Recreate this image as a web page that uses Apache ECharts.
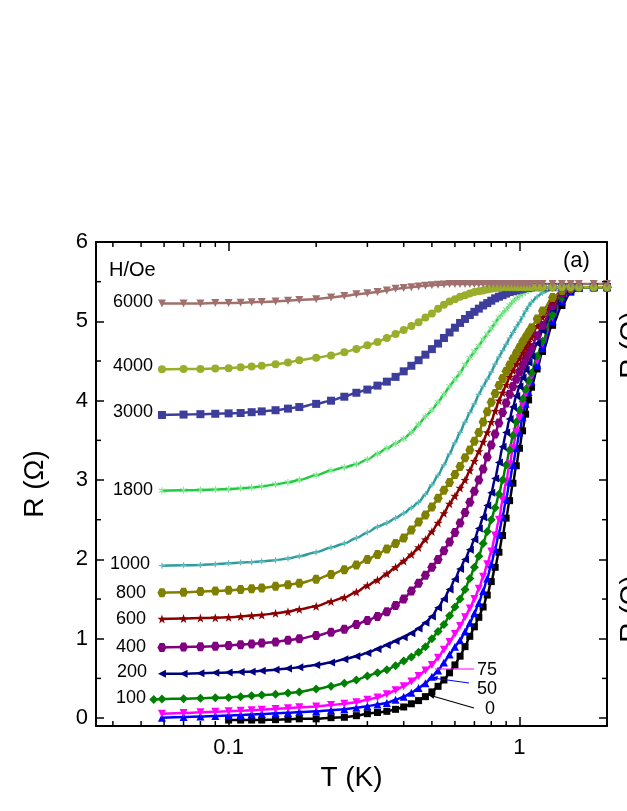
<!DOCTYPE html>
<html><head><meta charset="utf-8">
<script src="https://cdn.jsdelivr.net/npm/echarts@6/dist/echarts.min.js"></script>
<style>html,body{margin:0;padding:0;background:#fff;}#c{width:627px;height:811px;}</style>
</head><body><div id="c"></div>
<script>
// Temperatures (K)
const T = [0.0553,0.059,0.07,0.08,0.09,0.1,0.11,0.12,0.13,0.145,0.16,0.175,0.2,0.225,0.25,0.275,0.3,0.325,0.35,0.375,0.4,0.425,0.45,0.475,0.5,0.525,0.55,0.575,0.6,0.625,0.65,0.675,0.7,0.725,0.75,0.775,0.8,0.825,0.85,0.875,0.9,0.925,0.95,0.975,1.0,1.025,1.05,1.075,1.1,1.15,1.2,1.3,1.4,1.5,1.6,1.8,2.0];

// Resistance (Ohm) per field H/Oe
const R6000 = [null,5.225,5.225,5.225,5.23,5.23,5.235,5.24,5.245,5.25,5.26,5.27,5.28,5.3,5.32,5.34,5.355,5.37,5.39,5.41,5.42,5.43,5.44,5.45,5.455,5.46,5.465,5.47,5.47,5.47,5.47,5.47,5.47,5.47,5.47,5.47,5.47,5.47,5.47,5.47,5.47,5.47,5.47,5.47,5.47,5.47,5.47,5.47,5.47,5.47,5.47,5.47,5.47,5.47,5.47,5.47,5.47];
const R4000 = [null,4.395,4.4,4.4,4.405,4.41,4.42,4.43,4.44,4.46,4.48,4.51,4.54,4.57,4.61,4.65,4.7,4.74,4.79,4.84,4.89,4.94,4.99,5.05,5.1,5.16,5.21,5.25,5.28,5.31,5.33,5.35,5.37,5.38,5.39,5.4,5.41,5.42,5.42,5.43,5.43,5.43,5.43,5.43,5.43,5.43,5.43,5.43,5.43,5.43,5.43,5.43,5.43,5.43,5.43,5.43,5.43];
const R3000 = [null,3.82,3.825,3.83,3.835,3.84,3.845,3.855,3.865,3.88,3.9,3.92,3.96,4.0,4.05,4.1,4.14,4.19,4.24,4.3,4.37,4.44,4.51,4.58,4.65,4.72,4.79,4.86,4.92,4.98,5.03,5.08,5.12,5.16,5.2,5.23,5.26,5.29,5.31,5.33,5.35,5.37,5.38,5.39,5.4,5.41,5.42,5.42,5.43,5.43,5.43,5.43,5.43,5.43,5.43,5.43,5.43];
const R1800 = [null,2.865,2.87,2.875,2.88,2.885,2.895,2.905,2.92,2.945,2.97,3.0,3.06,3.12,3.16,3.2,3.26,3.33,3.4,3.46,3.52,3.6,3.7,3.8,3.88,3.98,4.08,4.18,4.27,4.35,4.45,4.54,4.62,4.69,4.77,4.84,4.91,4.98,5.05,5.1,5.15,5.2,5.25,5.29,5.32,5.35,5.37,5.39,5.4,5.42,5.43,5.43,5.43,5.43,5.43,5.43,5.43];
const R1000 = [null,1.92,1.925,1.93,1.94,1.95,1.96,1.965,1.975,1.99,2.01,2.04,2.09,2.15,2.2,2.27,2.34,2.41,2.46,2.52,2.58,2.65,2.72,2.82,2.94,3.06,3.19,3.33,3.47,3.6,3.73,3.85,3.96,4.08,4.18,4.27,4.36,4.46,4.55,4.63,4.71,4.79,4.86,4.93,4.99,5.06,5.13,5.19,5.24,5.31,5.36,5.41,5.43,5.43,5.43,5.43,5.43];
const R800 = [null,1.58,1.585,1.595,1.6,1.61,1.62,1.63,1.64,1.66,1.68,1.7,1.75,1.81,1.87,1.93,2.0,2.06,2.13,2.2,2.27,2.37,2.47,2.56,2.66,2.77,2.87,2.97,3.07,3.17,3.28,3.38,3.49,3.6,3.73,3.86,3.98,4.09,4.19,4.28,4.37,4.45,4.53,4.6,4.67,4.74,4.8,4.86,4.92,5.03,5.13,5.3,5.39,5.42,5.43,5.43,5.43];
const R600 = [null,1.25,1.255,1.26,1.265,1.27,1.28,1.29,1.3,1.32,1.34,1.37,1.41,1.47,1.52,1.59,1.67,1.74,1.82,1.9,1.98,2.06,2.15,2.25,2.35,2.46,2.58,2.7,2.8,2.9,3.0,3.12,3.24,3.36,3.48,3.6,3.73,3.87,4.0,4.1,4.2,4.3,4.38,4.46,4.53,4.6,4.67,4.74,4.8,4.94,5.05,5.25,5.37,5.41,5.43,5.43,5.43];
const R400 = [null,0.89,0.895,0.9,0.905,0.915,0.925,0.935,0.945,0.96,0.98,1.0,1.04,1.08,1.12,1.18,1.23,1.28,1.34,1.42,1.5,1.6,1.7,1.8,1.9,2.0,2.11,2.22,2.34,2.46,2.59,2.72,2.86,3.0,3.14,3.29,3.44,3.58,3.72,3.85,3.97,4.08,4.18,4.27,4.36,4.45,4.53,4.6,4.67,4.82,4.95,5.2,5.35,5.41,5.43,5.43,5.43];
const R200 = [null,0.56,0.56,0.565,0.57,0.575,0.58,0.585,0.595,0.61,0.625,0.64,0.67,0.7,0.74,0.78,0.82,0.87,0.92,0.97,1.02,1.07,1.13,1.2,1.28,1.39,1.5,1.62,1.75,1.88,2.0,2.12,2.25,2.39,2.53,2.68,2.84,3.02,3.22,3.42,3.6,3.77,3.92,4.06,4.18,4.29,4.39,4.48,4.56,4.72,4.88,5.15,5.33,5.4,5.42,5.43,5.43];
const R100 = [0.235,0.24,0.245,0.25,0.255,0.26,0.27,0.28,0.29,0.3,0.315,0.33,0.365,0.4,0.44,0.48,0.53,0.57,0.61,0.66,0.72,0.77,0.83,0.9,1.0,1.09,1.18,1.29,1.4,1.5,1.62,1.76,1.9,2.04,2.2,2.35,2.5,2.65,2.82,3.0,3.19,3.38,3.56,3.73,3.88,4.02,4.14,4.25,4.35,4.56,4.75,5.08,5.3,5.4,5.42,5.43,5.43];
const R75 = [null,0.055,0.065,0.072,0.08,0.087,0.093,0.098,0.105,0.115,0.125,0.135,0.145,0.165,0.18,0.2,0.23,0.26,0.3,0.35,0.4,0.46,0.53,0.6,0.67,0.76,0.86,0.96,1.06,1.16,1.27,1.38,1.5,1.63,1.78,1.94,2.1,2.3,2.5,2.75,2.98,3.2,3.4,3.6,3.78,3.95,4.08,4.2,4.3,4.5,4.72,5.05,5.28,5.39,5.42,5.43,5.43];
const R50 = [null,0.005,0.015,0.02,0.027,0.033,0.04,0.045,0.05,0.06,0.068,0.075,0.085,0.1,0.11,0.13,0.15,0.17,0.19,0.23,0.27,0.32,0.38,0.44,0.52,0.6,0.7,0.8,0.9,0.98,1.09,1.2,1.32,1.45,1.6,1.76,1.94,2.13,2.33,2.54,2.76,2.98,3.19,3.4,3.6,3.79,3.96,4.11,4.24,4.45,4.66,5.0,5.25,5.38,5.42,5.43,5.43];
const R0 = [null,null,null,null,null,-0.025,-0.025,-0.025,-0.025,-0.02,-0.015,-0.01,-0.01,0.005,0.01,0.03,0.055,0.07,0.085,0.11,0.14,0.18,0.22,0.27,0.33,0.4,0.48,0.57,0.67,0.78,0.9,1.03,1.15,1.27,1.4,1.55,1.72,1.9,2.09,2.3,2.52,2.74,2.96,3.18,3.4,3.62,3.83,4.01,4.17,4.4,4.62,4.95,5.2,5.37,5.42,5.43,5.43];

// Axis tick values
const xLabelTicks = [0.1, 1];
const xMinorTicks = [0.04,0.05,0.06,0.07,0.08,0.09,0.2,0.3,0.4,0.5,0.6,0.7,0.8,0.9];
const yMinorTicks = [0.5,1.5,2.5,3.5,4.5,5.5];

const FONT = '"Liberation Sans", Arial, Helvetica, sans-serif';
const DOWN = 'path://M0,0 L10,0 L5,9 Z';
const LEFT = 'path://M10,0 L10,10 L1,5 Z';
const HEX = 'path://M2.5,0 L7.5,0 L10,5 L7.5,10 L2.5,10 L0,5 Z';
const STAR = 'path://M5,0 L6.2,3.6 L10,3.7 L7,6 L8.1,9.8 L5,7.6 L1.9,9.8 L3,6 L0,3.7 L3.8,3.6 Z';
const PLUS = 'path://M4,0 H6 V4 H10 V6 H6 V10 H4 V6 H0 V4 H4 Z';
const ASTER = 'path://M4.3,0 H5.7 V3.3 L8.6,1.6 L9.3,2.8 L6.4,4.5 V5.5 L9.3,7.2 L8.6,8.4 L5.7,6.7 V10 H4.3 V6.7 L1.4,8.4 L0.7,7.2 L3.6,5.5 V4.5 L0.7,2.8 L1.4,1.6 L4.3,3.3 Z';

const defs = [
  {name:'0', R:R0, color:'#000000', symbol:'rect', size:7},
  {name:'50', R:R50, color:'#0000FF', symbol:'triangle', size:8},
  {name:'75', R:R75, color:'#FF00FF', symbol:DOWN, size:8},
  {name:'100', R:R100, color:'#008000', symbol:'diamond', size:9},
  {name:'200', R:R200, color:'#000080', symbol:LEFT, size:8},
  {name:'400', R:R400, color:'#800080', symbol:HEX, size:9},
  {name:'600', R:R600, color:'#8B0000', symbol:STAR, size:9},
  {name:'800', R:R800, color:'#808000', symbol:HEX, size:9},
  {name:'1000', R:R1000, color:'#2E9C9C', symbol:PLUS, size:6, mcolor:'#63BDBD'},
  {name:'1800', R:R1800, color:'#1FCC40', symbol:ASTER, size:7, mcolor:'#86E596'},
  {name:'3000', R:R3000, color:'#3D3D9C', symbol:'rect', size:8},
  {name:'4000', R:R4000, color:'#9AAE2C', symbol:'circle', size:8},
  {name:'6000', R:R6000, color:'#A0706E', symbol:DOWN, size:8}
];

function pairs(R){ return T.map((t,i)=>[t,R[i]]).filter(p=>p[1]!==null); }

const lineSeries = defs.map(d=>({
  type:'line', name:d.name, xAxisIndex:0, yAxisIndex:0,
  data:pairs(d.R), symbol:d.symbol, symbolSize:d.size, showSymbol:true,
  smooth:0.3, smoothMonotone:'x',
  lineStyle:{color:d.color, width:2.5}, itemStyle:{color:d.mcolor||d.color},
  z:2, animation:false, silent:true
}));

const axisLine = {show:true, onZero:false, lineStyle:{color:'#000', width:2}};
const labelStyle = {fontSize:22, color:'#000', fontFamily:FONT};

const xMinorSeries = {
  type:'custom', xAxisIndex:0, yAxisIndex:0, silent:true, clip:false, z:5,
  data: xMinorTicks.map(v=>[v,0]),
  renderItem:(params, api)=>{
    const x = api.coord([api.value(0), 0])[0];
    const cs = params.coordSys;
    return {type:'group', children:[
      {type:'line', shape:{x1:x,y1:cs.y+cs.height,x2:x,y2:cs.y+cs.height-5}, style:{stroke:'#000',lineWidth:1.5}},
      {type:'line', shape:{x1:x,y1:cs.y,x2:x,y2:cs.y+5}, style:{stroke:'#000',lineWidth:1.5}}
    ]};
  }
};
const yMinorSeries = {
  type:'custom', xAxisIndex:0, yAxisIndex:0, silent:true, clip:false, z:5,
  data: yMinorTicks.map(v=>[1,v]),
  renderItem:(params, api)=>{
    const y = api.coord([1, api.value(1)])[1];
    const cs = params.coordSys;
    return {type:'group', children:[
      {type:'line', shape:{x1:cs.x,y1:y,x2:cs.x+5,y2:y}, style:{stroke:'#000',lineWidth:1.5}},
      {type:'line', shape:{x1:cs.x+cs.width,y1:y,x2:cs.x+cs.width-5,y2:y}, style:{stroke:'#000',lineWidth:1.5}}
    ]};
  }
};

function xFmt(v){
  for (const t of xLabelTicks){ if (Math.abs(v-t) < 1e-6*t) return String(t); }
  return '';
}

const txt = (x,y,text,opts)=>Object.assign({type:'text', x:x, y:y, silent:true, z:10,
  style:Object.assign({text:text, fill:'#000', font:'18px '+FONT, align:'left', verticalAlign:'middle'}, opts||{})});

const graphics = [
  txt(109,270,'H/Oe',{font:'20px '+FONT}),
  txt(153,302,'6000',{align:'right'}),
  txt(153,366,'4000',{align:'right'}),
  txt(153,412,'3000',{align:'right'}),
  txt(153,490,'1800',{align:'right'}),
  txt(150,564,'1000',{align:'right'}),
  txt(146,593,'800',{align:'right'}),
  txt(146,619,'600',{align:'right'}),
  txt(146,647,'400',{align:'right'}),
  txt(147,672,'200',{align:'right'}),
  txt(146,698,'100',{align:'right'}),
  txt(477,670,'75'),
  txt(477,689,'50'),
  txt(485,709,'0'),
  txt(563,261,'(a)',{font:'22px '+FONT}),
  {type:'line', silent:true, z:10, shape:{x1:435,y1:669,x2:474,y2:669}, style:{stroke:'#FF00FF', lineWidth:1.2}},
  {type:'line', silent:true, z:10, shape:{x1:433,y1:678,x2:469,y2:683}, style:{stroke:'#0000FF', lineWidth:1.2}},
  {type:'polygon', silent:true, z:10, shape:{points:[[432,677.5],[438,676],[437,680.5]]}, style:{fill:'#0000FF'}},
  {type:'line', silent:true, z:10, shape:{x1:429,y1:695,x2:474,y2:708}, style:{stroke:'#000', lineWidth:1.2}},
  {type:'polygon', silent:true, z:10, shape:{points:[[428,694.7],[435,694.3],[433.5,698.8]]}, style:{fill:'#000'}},
  {type:'text', x:631, y:345, rotation:Math.PI/2, silent:true, z:10, style:{text:'R (Ω)', fill:'#000', font:'28px '+FONT, align:'center', verticalAlign:'middle'}},
  {type:'text', x:631, y:609, rotation:Math.PI/2, silent:true, z:10, style:{text:'R (Ω)', fill:'#000', font:'28px '+FONT, align:'center', verticalAlign:'middle'}}
];

const chart = echarts.init(document.getElementById('c'), null, {renderer:'canvas'});
chart.setOption({
  animation:false,
  backgroundColor:'#fff',
  grid:{left:96, right:20, top:242, bottom:85, containLabel:false},
  xAxis:[
    {type:'log', logBase:10, min:0.035, max:2, position:'bottom',
     axisLine:axisLine, axisTick:{show:true, inside:true, length:9, lineStyle:{color:'#000', width:1.5}},
     axisLabel:Object.assign({formatter:xFmt, margin:11, showMinLabel:false, showMaxLabel:false}, labelStyle),
     splitLine:{show:false}, minorTick:{show:false},
     name:'T (K)', nameLocation:'middle', nameGap:34, nameTextStyle:{fontSize:28, color:'#000', fontFamily:FONT}},
    {type:'log', logBase:10, min:0.035, max:2, position:'top',
     axisLine:axisLine, axisTick:{show:true, inside:true, length:9, lineStyle:{color:'#000', width:1.5}},
     axisLabel:{show:false}, splitLine:{show:false}}
  ],
  yAxis:[
    {type:'value', min:-0.1, max:6, splitNumber:6, position:'left',
     axisLine:axisLine, axisTick:{show:true, inside:true, length:8, lineStyle:{color:'#000', width:1.5}},
     axisLabel:Object.assign({margin:8, showMinLabel:false, formatter:v=>(Math.abs(v-Math.round(v))<1e-9 && v>=0)?String(Math.round(v)):''}, labelStyle),
     splitLine:{show:false},
     name:'R (Ω)', nameLocation:'middle', nameGap:47, nameTextStyle:{fontSize:28, color:'#000', fontFamily:FONT}},
    {type:'value', min:-0.1, max:6, splitNumber:6, position:'right',
     axisLine:axisLine, axisTick:{show:true, inside:true, length:8, lineStyle:{color:'#000', width:1.5}},
     axisLabel:{show:false}, splitLine:{show:false}}
  ],
  series: lineSeries.concat([xMinorSeries, yMinorSeries]),
  graphic: graphics
});
</script>
</body></html>
